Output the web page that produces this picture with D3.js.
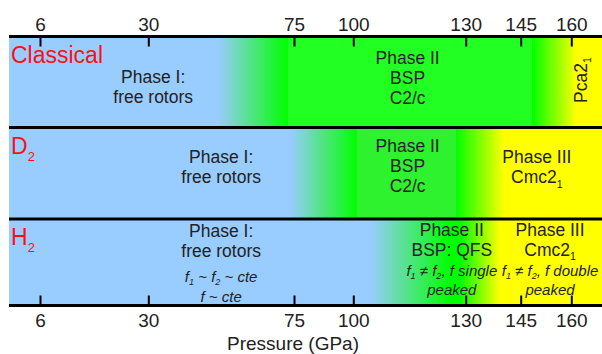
<!DOCTYPE html>
<html>
<head>
<meta charset="utf-8">
<script src="https://cdn.jsdelivr.net/npm/d3@7"></script>
<style>
  body { margin: 0; background: #fff; }
  text { font-family: "Liberation Sans", Arial, sans-serif; fill: #222; }
</style>
</head>
<body>
<div class="chart"></div>
<script>
var svgWidth = 602;
var svgHeight = 354;

// Data
// ==============================
// pressure ticks (GPa); the axis is schematic, not linear
var pressureTicks = [6, 30, 75, 100, 130, 145, 160];

var rowNames = [["Classical", ""], ["D", "2"], ["H", "2"]];

// colour stops per row: [pressure, phase]
var classicalStops = [[51.5, "I"], [73.1, "II"], [73.1, "IIa"], [148.3, "IIa"], [148.3, "II"], [161.6, "III"]];
var d2Stops = [[73.8, "I"], [101, "II"], [101, "IIb"], [127.3, "IIb"], [127.3, "II"], [140.5, "III"]];
var h2Stops = [[104.5, "I"], [126, "II"], [128.5, "II"], [139.4, "III"]];

// phase labels, centred on a pressure; "_x" = subscript
var classicalLabels = [
  {p: 31.5, lines: ["Phase I:", "free rotors"], notes: []},
  {p: 114.5, lines: ["Phase II", "BSP", "C2/c"], notes: []}
];
var d2Labels = [
  {p: 52.5, lines: ["Phase I:", "free rotors"], notes: []},
  {p: 114.5, lines: ["Phase II", "BSP", "C2/c"], notes: []},
  {p: 149.8, lines: ["Phase III", "Cmc2_1"], notes: []}
];
var h2Labels = [
  {p: 52.5, lines: ["Phase I:", "free rotors"], notes: ["f_1 ~ f_2 ~ cte", "f ~ cte"]},
  {p: 126.3, lines: ["Phase II", "BSP: QFS"], notes: ["f_1 ≠ f_2, f single", "peaked"]},
  {p: 153.7, lines: ["Phase III", "Cmc2_1"], notes: ["f_1 ≠ f_2, f double", "peaked"]}
];
var classicalSide = {p: 163.1, text: "Pca2_1"};

var rowStops = [classicalStops, d2Stops, h2Stops];
var rowLabels = [classicalLabels, d2Labels, h2Labels];

// Layout
// ==============================
var left = 9, right = 602;
var rowEdges = [36.5, 127.5, 219, 305.5];
var labelTop = [[46.5, 27.8], [35.8, 24.8, 35.8], [17.5, 16.7, 16.7]];
var noteTop = [[], [], [62.7, 56.5, 56.5]];
var noteGap = [[], [], [20, 19, 19]];

var svg = d3.select(".chart")
  .append("svg")
  .attr("width", svgWidth)
  .attr("height", svgHeight);

var xScale = d3.scaleLinear()
  .domain(pressureTicks)
  .range([40, 148.3, 294, 353.3, 465.7, 520.7, 571.3]);

var phaseColor = d3.scaleOrdinal()
  .domain(["I", "II", "IIa", "IIb", "III"])
  .range(["#99ccff", "#00ff00", "#22ff22", "#2df22d", "#ffff00"]);

// text with "_x" subscripts
function richText(sel, str, size) {
  var parts = str.split(/_(.)/);
  var shift = 0;
  parts.forEach(function(s, i) {
    if (!s) return;
    var t = sel.append("tspan").text(s);
    if (i % 2 === 1) {
      t.attr("font-size", size * 0.6).attr("dy", size * 0.25);
      shift = size * 0.25;
    } else if (shift) {
      t.attr("dy", -shift);
      shift = 0;
    }
  });
}

var defs = svg.append("defs");

rowStops.forEach(function(stops, i) {
  var grad = defs.append("linearGradient")
    .attr("id", "row" + i)
    .attr("gradientUnits", "userSpaceOnUse")
    .attr("x1", left).attr("x2", right)
    .attr("y1", 0).attr("y2", 0);
  grad.selectAll("stop")
    .data(stops)
    .enter()
    .append("stop")
    .attr("offset", d => (xScale(d[0]) - left) / (right - left))
    .attr("stop-color", d => phaseColor(d[1]));

  svg.append("rect")
    .attr("x", left)
    .attr("y", rowEdges[i])
    .attr("width", right - left)
    .attr("height", rowEdges[i + 1] - rowEdges[i])
    .attr("fill", "url(#row" + i + ")");
});

// row names
rowNames.forEach(function(n, i) {
  var t = svg.append("text")
    .attr("x", 11)
    .attr("y", rowEdges[i] + 26)
    .attr("font-size", 23)
    .style("fill", "#ff1010");
  t.append("tspan").text(n[0]);
  if (n[1]) t.append("tspan").attr("font-size", 13).attr("dy", 7).text(n[1]);
});

// phase labels
rowLabels.forEach(function(labels, i) {
  labels.forEach(function(d, j) {
    d.lines.forEach(function(line, k) {
      var t = svg.append("text")
        .attr("x", xScale(d.p))
        .attr("y", rowEdges[i] + labelTop[i][j] + k * 20)
        .attr("text-anchor", "middle")
        .attr("font-size", 17.5);
      richText(t, line, 17.5);
    });
    d.notes.forEach(function(line, k) {
      var t = svg.append("text")
        .attr("x", xScale(d.p))
        .attr("y", rowEdges[i] + noteTop[i][j] + k * noteGap[i][j])
        .attr("text-anchor", "middle")
        .attr("font-size", 15)
        .attr("font-style", "italic");
      richText(t, line, 15);
    });
  });
});

var side = svg.append("text")
  .attr("transform", `translate(${xScale(classicalSide.p) + 5}, 103) rotate(-90)`)
  .attr("font-size", 17.5);
richText(side, classicalSide.text, 17.5);

// row borders
svg.selectAll(".border")
  .data(rowEdges)
  .enter()
  .append("line")
  .attr("class", "border")
  .attr("x1", left).attr("x2", right)
  .attr("y1", d => d).attr("y2", d => d)
  .attr("stroke", "#000")
  .attr("stroke-width", 3);

// axes
var topAxis = d3.axisTop(xScale).tickValues(pressureTicks).tickSize(-10).tickPadding(6);
var bottomAxis = d3.axisBottom(xScale).tickValues(pressureTicks).tickSize(-10).tickPadding(8);

[[topAxis, rowEdges[0]], [bottomAxis, rowEdges[3]]].forEach(function(a) {
  var g = svg.append("g")
    .attr("transform", `translate(0, ${a[1]})`)
    .call(a[0]);
  g.select(".domain").remove();
  g.selectAll(".tick line").attr("stroke", "#000").attr("stroke-width", 2);
  g.selectAll(".tick text")
    .attr("font-size", 19)
    .attr("font-family", null)
    .attr("fill", null);
  g.attr("font-family", null).attr("font-size", null);
});

svg.append("text")
  .attr("x", 293)
  .attr("y", 350)
  .attr("text-anchor", "middle")
  .attr("font-size", 19)
  .text("Pressure (GPa)");
</script>
</body>
</html>
